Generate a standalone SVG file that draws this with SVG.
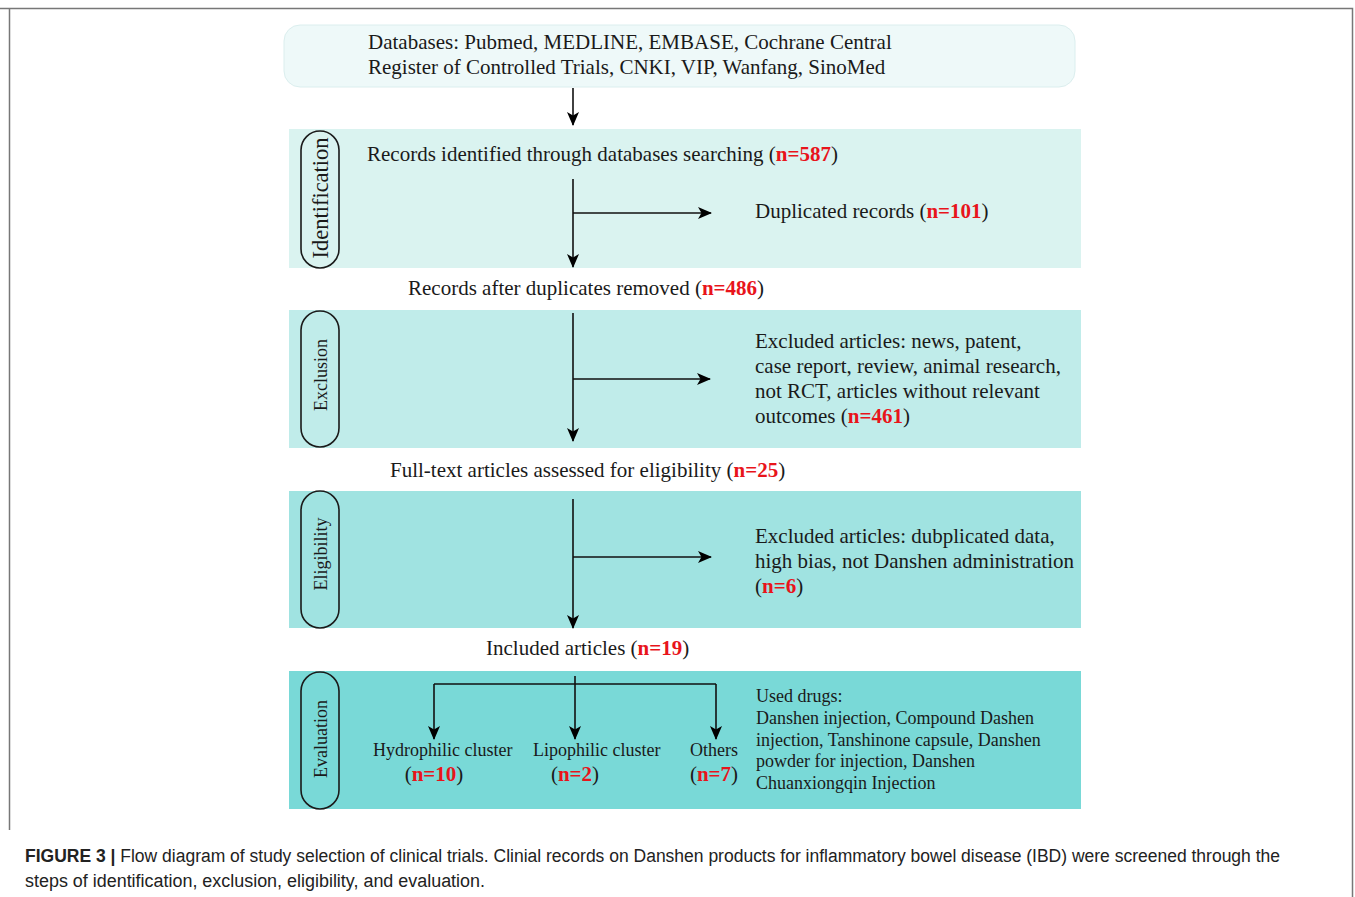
<svg xmlns="http://www.w3.org/2000/svg" width="1355" height="897" viewBox="0 0 1355 897">
<defs>
<marker id="ah" viewBox="0 0 14 12" refX="13" refY="6" markerWidth="14" markerHeight="12" markerUnits="userSpaceOnUse" orient="auto">
<path d="M0,0 L14,6 L0,12 L3.5,6 Z" fill="#000"/>
</marker>
</defs>
<style>
.t{font-family:"Liberation Serif","Times New Roman",serif;font-size:21px;fill:#1a1a1a}
.s{font-size:18px}
.r{fill:#e8141b;font-weight:bold}
.pill{fill:none;stroke:#1a1a1a;stroke-width:1.6}
.lab{font-family:"Liberation Serif","Times New Roman",serif;font-size:18px;fill:#1a1a1a}
.big{font-size:22.5px}
.c{stroke:#111;stroke-width:1.6;fill:none}
.cap{font-family:"Liberation Sans",Arial,sans-serif;font-size:18px;fill:#222}
</style>
<rect x="0" y="0" width="1355" height="897" fill="#fff"/>
<path d="M0,8.5 H1352.5 V897 M9.5,8.5 V830" fill="none" stroke="#777" stroke-width="1.5"/>

<g id="databases">
<rect x="284" y="25" width="791" height="62" rx="16" fill="#eef9f9" stroke="#dbeeee" stroke-width="1"/>
<text class="t" x="368" y="49">Databases: Pubmed, MEDLINE, EMBASE, Cochrane Central</text>
<text class="t" x="368" y="74">Register of Controlled Trials, CNKI, VIP, Wanfang, SinoMed</text>
</g>

<g id="identification">
<rect x="289" y="129" width="792" height="139" fill="#daf3f0"/>
<rect class="pill" x="301" y="131" width="38" height="137" rx="19"/>
<text class="lab big" transform="translate(328,198) rotate(-90)" text-anchor="middle">Identification</text>
<text class="t" x="367" y="161">Records identified through databases searching (<tspan class="r">n=587</tspan>)</text>
</g>
<g id="duplicated">
<text class="t" x="755" y="218">Duplicated records (<tspan class="r">n=101</tspan>)</text>
</g>
<g id="after-duplicates">
<text class="t" x="408" y="295">Records after duplicates removed (<tspan class="r">n=486</tspan>)</text>
</g>

<g id="exclusion">
<rect x="289" y="310" width="792" height="138" fill="#c0ecea"/>
<rect class="pill" x="301" y="311" width="38" height="136" rx="19"/>
<text class="lab" transform="translate(327,375) rotate(-90)" text-anchor="middle">Exclusion</text>
</g>
<g id="excluded-articles">
<text class="t" x="755" y="348">Excluded articles: news, patent,</text>
<text class="t" x="755" y="373">case report, review, animal research,</text>
<text class="t" x="755" y="398">not RCT, articles without relevant</text>
<text class="t" x="755" y="423">outcomes (<tspan class="r">n=461</tspan>)</text>
</g>
<g id="full-text">
<text class="t" x="390" y="477">Full-text articles assessed for eligibility (<tspan class="r">n=25</tspan>)</text>
</g>

<g id="eligibility">
<rect x="289" y="491" width="792" height="137" fill="#a0e3e1"/>
<rect class="pill" x="301" y="491" width="38" height="137" rx="19"/>
<text class="lab" transform="translate(327,554) rotate(-90)" text-anchor="middle">Eligibility</text>
</g>
<g id="excluded-eligibility">
<text class="t" x="755" y="543">Excluded articles: dubplicated data,</text>
<text class="t" x="755" y="568">high bias, not Danshen administration</text>
<text class="t" x="755" y="593">(<tspan class="r">n=6</tspan>)</text>
</g>
<g id="included">
<text class="t" x="486" y="655">Included articles (<tspan class="r">n=19</tspan>)</text>
</g>

<g id="evaluation">
<rect x="289" y="671" width="792" height="138" fill="#79d9d7"/>
<rect class="pill" x="301" y="672" width="38" height="137" rx="19"/>
<text class="lab" transform="translate(327,739) rotate(-90)" text-anchor="middle">Evaluation</text>
</g>
<g id="hydrophilic">
<text class="t s" x="373" y="756">Hydrophilic cluster</text>
<text class="t" x="434" y="781" text-anchor="middle">(<tspan class="r">n=10</tspan>)</text>
</g>
<g id="lipophilic">
<text class="t s" x="533" y="756">Lipophilic cluster</text>
<text class="t" x="575" y="781" text-anchor="middle">(<tspan class="r">n=2</tspan>)</text>
</g>
<g id="others">
<text class="t s" x="690" y="756">Others</text>
<text class="t" x="714" y="781" text-anchor="middle">(<tspan class="r">n=7</tspan>)</text>
</g>
<g id="used-drugs">
<text class="t s" x="756" y="702">Used drugs:</text>
<text class="t s" x="756" y="724">Danshen injection, Compound Dashen</text>
<text class="t s" x="756" y="746">injection, Tanshinone capsule, Danshen</text>
<text class="t s" x="756" y="767">powder for injection, Danshen</text>
<text class="t s" x="756" y="789">Chuanxiongqin Injection</text>
</g>

<g id="connectors">
<path class="c" d="M573,88 V125" marker-end="url(#ah)"/>
<path class="c" d="M573,179 V267" marker-end="url(#ah)"/>
<path class="c" d="M573,213 H711" marker-end="url(#ah)"/>
<path class="c" d="M573,313 V441" marker-end="url(#ah)"/>
<path class="c" d="M573,379 H710" marker-end="url(#ah)"/>
<path class="c" d="M573,499 V628" marker-end="url(#ah)"/>
<path class="c" d="M573,557 H711" marker-end="url(#ah)"/>
<path class="c" d="M575,676 V739" marker-end="url(#ah)"/>
<path class="c" d="M434,684 H716"/>
<path class="c" d="M434,684 V739" marker-end="url(#ah)"/>
<path class="c" d="M716,684 V739" marker-end="url(#ah)"/>
</g>

<g id="caption">
<text class="cap" x="25" y="862" textLength="1255" lengthAdjust="spacingAndGlyphs"><tspan font-weight="bold">FIGURE 3 |</tspan> Flow diagram of study selection of clinical trials. Clinial records on Danshen products for inflammatory bowel disease (IBD) were screened through the</text>
<text class="cap" x="25" y="887" textLength="460" lengthAdjust="spacingAndGlyphs">steps of identification, exclusion, eligibility, and evaluation.</text>
</g>
</svg>
